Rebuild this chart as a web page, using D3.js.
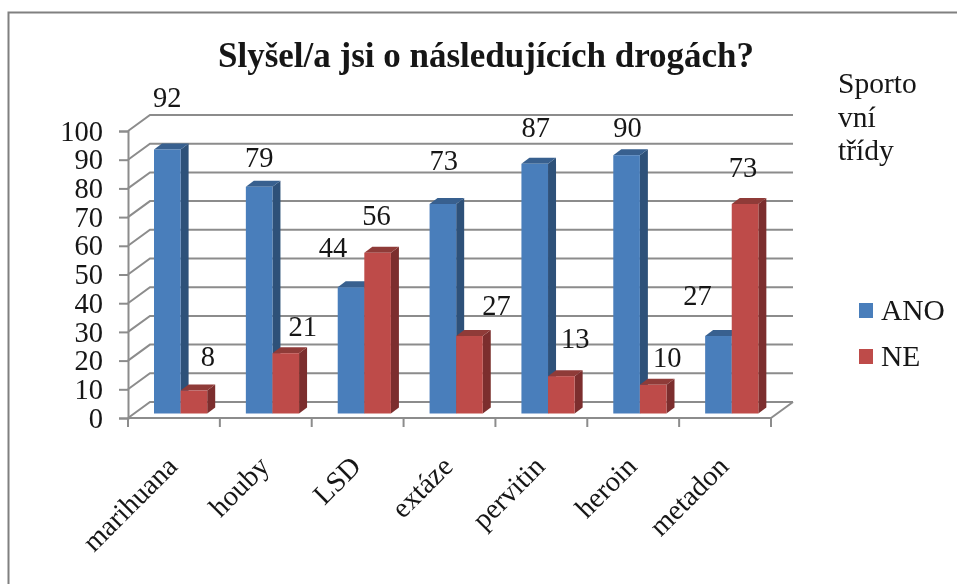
<!DOCTYPE html>
<html><head><meta charset="utf-8">
<script src="https://cdn.jsdelivr.net/npm/d3@7/dist/d3.min.js"></script>
<style>html,body{margin:0;background:#fff}svg{display:block}text{font-family:"Liberation Serif",serif;fill:#151515}</style>
</head><body><svg id="c" width="957" height="584"></svg>
<script>
const categories=["marihuana","houby","LSD","extáze","pervitin","heroin","metadon"];
const ano=[92,79,44,73,87,90,27];
const ne=[8,21,56,27,13,10,73];
const yTicks=[0,10,20,30,40,50,60,70,80,90,100];
const title="Slyšel/a jsi o následujících drogách?";
const sideNote=["Sporto","vní","třídy"];
const legendNames=["ANO","NE"];
// label nudges from bar-top position [dx,dy]
const anoNudge=[[0,-42.5],[0,-20],[-18,-30],[1,-34],[1,-27],[1,-18],[-21,-31]];
const neNudge=[[14,-25],[17,-17],[-1,-28],[27,-21],[14,-28],[14,-18],[-2,-27]];

const W=957,H=584,FS=28.5;
const svg=d3.select("#c");
const blur=svg.append("defs").append("filter").attr("id","b").attr("x","-2%").attr("y","-2%").attr("width","104%").attr("height","104%");
blur.append("feGaussianBlur").attr("stdDeviation",0.55);
const g=svg.append("g").attr("filter","url(#b)");
const frame="#808080",grid="#8c8c8c";
const F=22,D=16; // wall depth
const x=d3.scaleBand().domain(categories).range([128,771]);
const y=d3.scaleLinear().domain([0,100]).range([418,131]);
const base=4.5,barW=26.6,dx=8,dy=6;
const bx=d=>x(d)+26;
const by=v=>y(v)-base;

g.append("path").attr("d",`M8.5,584V12.5H957`).attr("fill","none").attr("stroke",frame).attr("stroke-width",2);

g.append("g").selectAll("path").data(yTicks).join("path")
 .attr("d",d=>`M128,${y(d)}L${128+F},${y(d)-D}H${771+F}`)
 .attr("fill","none").attr("stroke",grid).attr("stroke-width",2);
g.append("path").attr("d",`M771,418L${771+F},${418-D}`).attr("fill","none").attr("stroke",grid).attr("stroke-width",2);

const yAxis=g.append("g").attr("transform","translate(128,0)").call(d3.axisLeft(y).tickValues(yTicks).tickSize(9).tickPadding(16));
const xAxis=g.append("g").attr("transform","translate(0,418)").call(d3.axisBottom(x).tickSize(0).tickFormat(""));
xAxis.select(".domain").attr("d","M128,0H771");
xAxis.selectAll(".tick").remove();
xAxis.selectAll("line.edge").data(d3.range(categories.length+1)).join("line").attr("class","edge")
 .attr("x1",i=>128+i*x.step()).attr("x2",i=>128+i*x.step()).attr("y1",0).attr("y2",9);
for(const a of [yAxis,xAxis]){a.selectAll("path,line").attr("stroke",grid).attr("stroke-width",2);}
yAxis.selectAll("text").attr("font-size",FS).style("font-family",'"Liberation Serif",serif').attr("fill","#151515");

g.append("g").selectAll("text").data(categories).join("text")
 .attr("text-anchor","end").attr("font-size",FS)
 .attr("transform",d=>`translate(${x(d)+x.bandwidth()/2+5},${468}) rotate(-45)`).text(d=>d);

function bars(vals,offset,front,side,top){
 const s=g.append("g");
 categories.forEach((c,i)=>{
  const l=bx(c)+offset,r=l+barW,t=by(vals[i]),b=by(0);
  s.append("path").attr("fill",side).attr("d",`M${r},${t}l${dx},${-dy}V${b-dy}l${-dx},${dy}Z`);
  s.append("path").attr("fill",top).attr("d",`M${l},${t}l${dx},${-dy}H${r+dx}l${-dx},${dy}Z`);
  s.append("rect").attr("x",l).attr("y",t).attr("width",barW).attr("height",b-t).attr("fill",front);
 });
}
bars(ano,0,"#4a7ebb","#2f5179","#37608f");
bars(ne,barW,"#be4b48","#7b2f2d","#8f3a38");

function labels(vals,offset,nudge){
 g.append("g").selectAll("text").data(vals).join("text").attr("text-anchor","middle").attr("font-size",FS)
  .attr("x",(d,i)=>bx(categories[i])+offset+barW/2+nudge[i][0]).attr("y",(d,i)=>by(d)+nudge[i][1]).text(d=>d);
}
labels(ano,0,anoNudge);
labels(ne,barW,neNudge);

g.append("text").attr("x",486).attr("y",67).attr("text-anchor","middle").attr("font-size",35).attr("font-weight","bold").attr("fill","#111").text(title);
g.append("g").selectAll("text").data(sideNote).join("text").attr("x",838).attr("y",(d,i)=>93+i*33.5).attr("font-size",FS+1).text(d=>d);
const leg=g.append("g").selectAll("g").data(legendNames).join("g").attr("transform",(d,i)=>`translate(859,${303+i*46})`);
leg.append("rect").attr("width",14).attr("height",15).attr("fill",(d,i)=>i?"#be4b48":"#4a7ebb");
leg.append("text").attr("x",22).attr("y",17).attr("font-size",FS+1).text(d=>d);
</script></body></html>
